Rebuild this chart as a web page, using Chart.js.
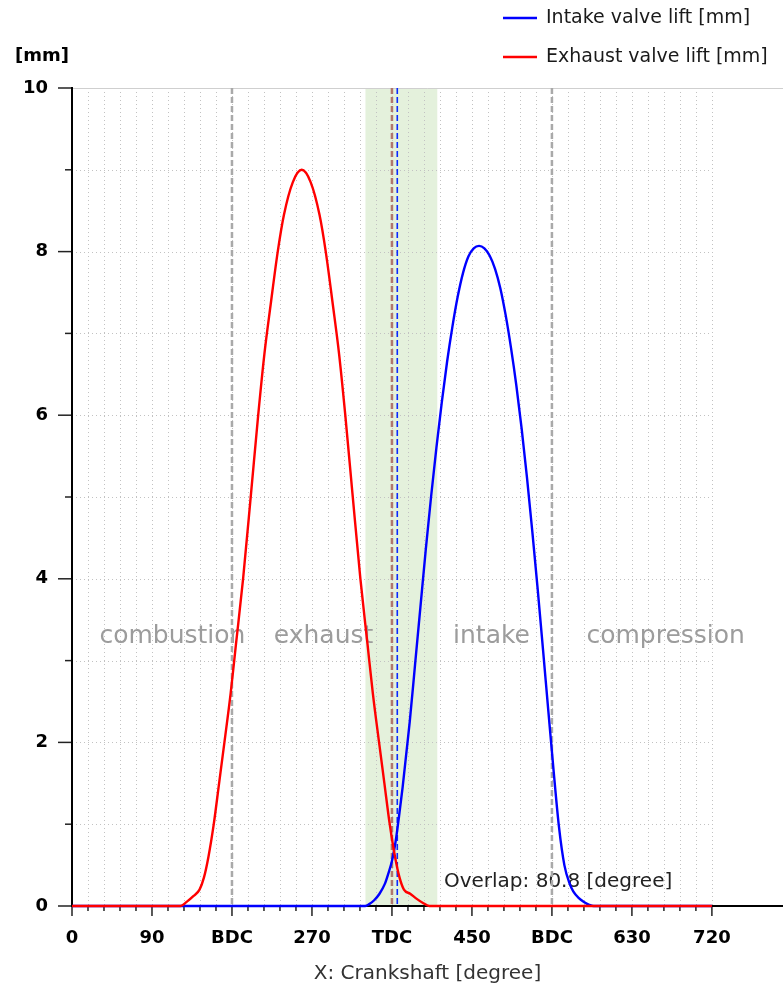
<!DOCTYPE html>
<html><head><meta charset="utf-8">
<script src="https://cdn.jsdelivr.net/npm/chart.js@4.4.0/dist/chart.umd.min.js"></script>
<style>html,body{margin:0;padding:0;background:#fff;}#wrap{width:783px;height:990px;}</style>
</head><body><div id="wrap"><canvas id="c" width="783" height="990"></canvas></div>
<script>
// ---- data ----
const intakeDeg  = [0,330,334,340,346,352,356,360,364,368,372,376,380,386,392,398,404,410,416,422,428,434,440,446,452,458,464,470,476,482,488,494,500,506,512,518,524,530,536,542,548,554,560,564,570,576,582,587,720];
const intakeLift = [0,0,0.02,0.07,0.15,0.27,0.4,0.55,0.78,1.1,1.45,1.85,2.25,2.95,3.65,4.35,5.0,5.6,6.15,6.65,7.08,7.45,7.74,7.94,8.04,8.07,8.04,7.95,7.79,7.55,7.22,6.82,6.36,5.83,5.23,4.57,3.87,3.13,2.38,1.64,0.96,0.5,0.27,0.18,0.1,0.05,0.015,0,0];
const exhaustDeg  = [0,122,129,136.5,143.5,148.5,153.5,159.5,165.5,171.5,178.5,184.5,192.5,201.5,209.5,216.5,223.5,231.5,238.5,248.5,258.5,268.5,278.5,285.5,293.5,300.5,307.5,315.5,324.5,332.5,338.5,345.5,351.5,357.5,363.5,368.5,373.5,380.5,387.5,394.5,402,720];
const exhaustLift = [0,0,0.05,0.12,0.2,0.35,0.6,1.0,1.5,2.0,2.6,3.2,4.0,5.05,6.0,6.75,7.35,8.0,8.45,8.85,9.0,8.85,8.45,8.0,7.35,6.75,6.0,5.05,4.0,3.2,2.6,2.0,1.5,1.0,0.6,0.35,0.2,0.15,0.09,0.04,0,0];
const seriesLabels = ['Intake valve lift [mm]','Exhaust valve lift [mm]'];
const xTickValues = [0,90,180,270,360,450,540,630,720];
const xTickLabels = ['0','90','BDC','270','TDC','450','BDC','630','720'];
const yTickValues = [0,2,4,6,8,10];
const phaseLabels = ['combustion','exhaust','intake','compression'];
const phaseCenters = [113,283,472,668];
const bdcLines = [180,540];
const tdcLine = 360;
const intakeMarker = 366;
const overlapRange = [330.2,411];
const overlapText = 'Overlap: 80.8 [degree]';
const xTitle = 'X: Crankshaft [degree]';
const yUnit = '[mm]';

const FONT = 'DejaVu Sans';
Chart.defaults.font.family = FONT;

function seg(ctx,x1,y1,x2,y2){ctx.beginPath();ctx.moveTo(x1,y1);ctx.lineTo(x2,y2);ctx.stroke();}

const deco = {
  id:'deco',
  beforeDraw(chart){
    const {ctx, chartArea:a, scales:{x,y}} = chart;
    ctx.save();
    ctx.fillStyle='#fff'; ctx.fillRect(0,0,chart.width,chart.height);
    const x720 = x.getPixelForValue(720);
    // overlap band
    const b0=x.getPixelForValue(overlapRange[0]), b1=x.getPixelForValue(overlapRange[1]);
    ctx.fillStyle='rgb(228,241,220)';
    ctx.fillRect(b0,a.top,b1-b0,a.bottom-a.top);
    // dotted grid
    ctx.lineWidth=1; ctx.setLineDash([1,3]); ctx.strokeStyle='#c2c2c2';
    for(let v=1; v<10; v++){const py=Math.round(y.getPixelForValue(v))+0.5; seg(ctx,a.left,py,x720,py);}
    for(let d=18; d<=720; d+=18){const px=Math.round(x.getPixelForValue(d))+0.5; seg(ctx,px,a.top,px,a.bottom);}
    ctx.setLineDash([]); ctx.strokeStyle='#cfcfcf';
    seg(ctx,a.left,a.top+0.5,a.right,a.top+0.5);
    // phase texts
    ctx.fillStyle='#9c9c9c'; ctx.font='25px "'+FONT+'"'; ctx.textAlign='center'; ctx.textBaseline='middle';
    phaseLabels.forEach((t,i)=>ctx.fillText(t, x.getPixelForValue(phaseCenters[i]), y.getPixelForValue(3.3)));
    // overlap text
    ctx.fillStyle='#222'; ctx.font='20px "'+FONT+'"'; ctx.textAlign='left';
    ctx.fillText(overlapText, x.getPixelForValue(418.5), y.getPixelForValue(0.3));
    // dashed lines
    ctx.lineWidth=2.5; ctx.setLineDash([6,3]); ctx.strokeStyle='#a9a9a9';
    bdcLines.forEach(d=>{const px=x.getPixelForValue(d); seg(ctx,px,a.top,px,a.bottom);});
    ctx.strokeStyle='#b0766c';
    let px=x.getPixelForValue(tdcLine); seg(ctx,px,a.top,px,a.bottom);
    ctx.lineWidth=1.6; ctx.strokeStyle='#0a28ff';
    px=x.getPixelForValue(intakeMarker); seg(ctx,px,a.top,px,a.bottom);
    ctx.setLineDash([]);
    // tick marks
    ctx.strokeStyle='#222'; ctx.lineWidth=1.5;
    for(let d=0; d<=720; d+=18){const p=x.getPixelForValue(d); seg(ctx,p,a.bottom,p,a.bottom+(d%90===0?10:5));}
    for(let v=0; v<=10; v++){const p=y.getPixelForValue(v); seg(ctx,a.left-(v%2===0?14:7),p,a.left,p);}
    ctx.restore();
  },
  afterDraw(chart){
    const {ctx} = chart;
    ctx.save();
    const colors=['#0000ff','#ff0000'];
    const rows=[18,57];
    ctx.font='19px "'+FONT+'"'; ctx.textAlign='left'; ctx.textBaseline='middle';
    chart.data.datasets.forEach((ds,i)=>{
      ctx.strokeStyle=colors[i]; ctx.lineWidth=2.5;
      seg(ctx,503,rows[i],537,rows[i]);
      ctx.fillStyle='#1a1a1a';
      ctx.fillText(ds.label,546,rows[i]);
    });
    ctx.font='bold 18px "'+FONT+'"'; ctx.textAlign='center'; ctx.fillStyle='#000';
    ctx.fillText(yUnit,42,56);
    ctx.restore();
  }
};

new Chart(document.getElementById('c'),{
  type:'line',
  data:{datasets:[
    {label:seriesLabels[0], data:intakeDeg.map((d,i)=>({x:d,y:intakeLift[i]})), borderColor:'#0000ff', borderWidth:2.4, pointRadius:0, cubicInterpolationMode:'monotone', order:1, clip:false},
    {label:seriesLabels[1], data:exhaustDeg.map((d,i)=>({x:d,y:exhaustLift[i]})), borderColor:'#ff0000', borderWidth:2.4, pointRadius:0, cubicInterpolationMode:'monotone', order:0, clip:false}
  ]},
  options:{
    responsive:false, animation:false, devicePixelRatio:1,
    layout:{padding:{top:88,left:0,right:0,bottom:0}},
    plugins:{legend:{display:false}, tooltip:{enabled:false}},
    scales:{
      x:{type:'linear', min:0, max:800,
        afterBuildTicks:s=>{s.ticks=xTickValues.map(v=>({value:v}));},
        afterFit:s=>{s.height=84;},
        grid:{display:false}, border:{display:true,color:'#000',width:2},
        ticks:{autoSkip:false,maxRotation:0,padding:14,color:'#000',font:{size:18,weight:'bold'},
          callback:v=>{const i=xTickValues.indexOf(v);return i>=0?xTickLabels[i]:'';}},
        title:{display:true,text:xTitle,color:'#333',font:{size:20},padding:{top:0,bottom:4}}
      },
      y:{type:'linear', min:0, max:10,
        afterBuildTicks:s=>{s.ticks=yTickValues.map(v=>({value:v}));},
        afterFit:s=>{s.width=72;},
        grid:{display:false}, border:{display:true,color:'#000',width:2},
        ticks:{padding:16,color:'#000',font:{size:18,weight:'bold'}}
      }
    }
  },
  plugins:[deco]
});
</script></body></html>
